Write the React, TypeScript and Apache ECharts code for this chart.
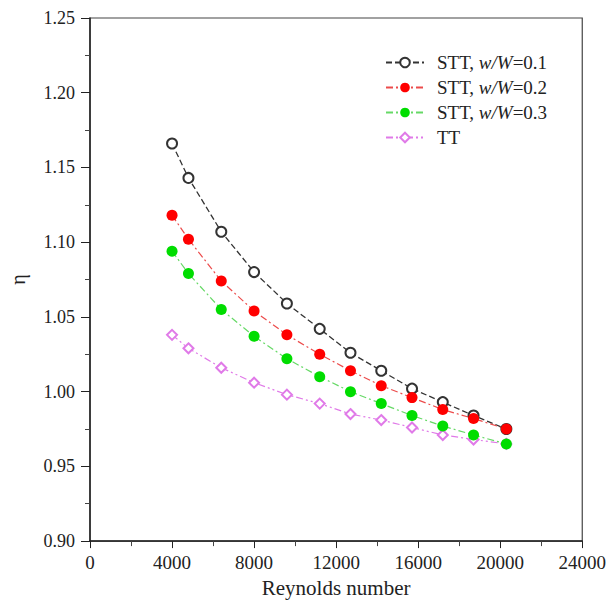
import React, { useEffect, useRef } from "react";
import * as echarts from "echarts";

const reynolds = [4000, 4800, 6400, 8000, 9600, 11200, 12700, 14200, 15700, 17200, 18700, 20300];
const stt01 = [1.166, 1.143, 1.107, 1.08, 1.059, 1.042, 1.026, 1.014, 1.002, 0.993, 0.984, 0.975];
const stt02 = [1.118, 1.102, 1.074, 1.054, 1.038, 1.025, 1.014, 1.004, 0.996, 0.988, 0.982, 0.975];
const stt03 = [1.094, 1.079, 1.055, 1.037, 1.022, 1.01, 1.0, 0.992, 0.984, 0.977, 0.971, 0.965];
const tt = [1.038, 1.029, 1.016, 1.006, 0.998, 0.992, 0.985, 0.981, 0.976, 0.971, 0.968, 0.965];
const seriesNames = ["STT, w/W=0.1", "STT, w/W=0.2", "STT, w/W=0.3", "TT"];

const FONT = "'Liberation Serif', 'Times New Roman', serif";

function pairs(ys: number[]) {
  return reynolds.map((x, i) => [x, ys[i]]);
}

export default function App() {
  const ref = useRef<HTMLDivElement>(null);
  useEffect(() => {
    if (!ref.current) return;
    const chart = echarts.init(ref.current, undefined, { renderer: "svg" });
    const axisLine = { show: true, lineStyle: { color: "#222", width: 1.5 } };
    chart.setOption({
      animation: false,
      backgroundColor: "#fff",
      grid: {
        left: 86,
        right: 26,
        top: 18,
        bottom: 58,
        show: true,
        borderColor: "#444",
        borderWidth: 1.2,
      },
      legend: {
        data: seriesNames,
        orient: "vertical",
        left: 380,
        top: 48,
        itemWidth: 38,
        itemHeight: 12,
        itemGap: 6,
        textStyle: {
          fontFamily: FONT,
          fontSize: 19,
          color: "#222",
          lineHeight: 19,
          padding: [0, 0, 0, 8],
          rich: {
            i: { fontFamily: FONT, fontSize: 19, fontStyle: "italic", color: "#222" },
          },
        },
        formatter: (name: string) => {
          const m = name.match(/^STT, w\/W=(.*)$/);
          if (m) return `STT, {i|w/W}=${m[1]}`;
          return name;
        },
      },
      xAxis: {
        type: "value",
        min: 0,
        max: 24000,
        interval: 4000,
        name: "Reynolds number",
        nameLocation: "middle",
        nameGap: 34,
        nameTextStyle: { fontFamily: FONT, fontSize: 21, color: "#222" },
        axisLine,
        axisTick: { show: true, inside: false, length: 7, lineStyle: { color: "#222" } },
        minorTick: { show: true, splitNumber: 2, length: 5, lineStyle: { color: "#444" } },
        splitLine: { show: false },
        axisLabel: {
          fontFamily: FONT,
          fontSize: 19,
          color: "#222",
          margin: 12,
          formatter: (v: number) => String(v),
        },
      },
      yAxis: {
        type: "value",
        min: 0.9,
        max: 1.25,
        interval: 0.05,
        name: "η",
        nameLocation: "middle",
        nameGap: 62,
        nameRotate: 90,
        nameTextStyle: { fontFamily: FONT, fontSize: 20, color: "#222" },
        axisLine,
        axisTick: { show: true, inside: false, length: 9, lineStyle: { color: "#222" } },
        minorTick: { show: true, splitNumber: 2, length: 5, lineStyle: { color: "#444" } },
        splitLine: { show: false },
        axisLabel: {
          fontFamily: FONT,
          fontSize: 18,
          color: "#222",
          margin: 15,
          formatter: (v: number) => v.toFixed(2),
        },
      },
      series: [
        {
          name: seriesNames[3],
          type: "line",
          data: pairs(tt),
          symbol: "emptyDiamond",
          symbolSize: 10,
          itemStyle: { color: "#e07ae8", borderColor: "#e07ae8", borderWidth: 1 },
          lineStyle: { color: "#e07ae8", width: 1.2, type: [7, 3, 2, 3, 2, 3] },
        },
        {
          name: seriesNames[0],
          type: "line",
          data: pairs(stt01),
          symbol: "emptyCircle",
          symbolSize: 10,
          itemStyle: { color: "#333", borderColor: "#333", borderWidth: 1.3 },
          lineStyle: { color: "#333", width: 1.3, type: [6, 3] },
        },
        {
          name: seriesNames[1],
          type: "line",
          data: pairs(stt02),
          symbol: "circle",
          symbolSize: 11,
          itemStyle: { color: "#ff0000" },
          lineStyle: { color: "#ec4b4b", width: 1.2, type: [7, 3, 2, 3] },
        },
        {
          name: seriesNames[2],
          type: "line",
          data: pairs(stt03),
          symbol: "circle",
          symbolSize: 11,
          itemStyle: { color: "#00dd00" },
          lineStyle: { color: "#66d966", width: 1.2, type: [7, 3, 2, 3] },
        },
      ],
    });
    return () => chart.dispose();
  }, []);
  return (
    <div
      ref={ref}
      style={{ position: "fixed", left: 0, top: 0, width: 609, height: 603 }}
    />
  );
}
